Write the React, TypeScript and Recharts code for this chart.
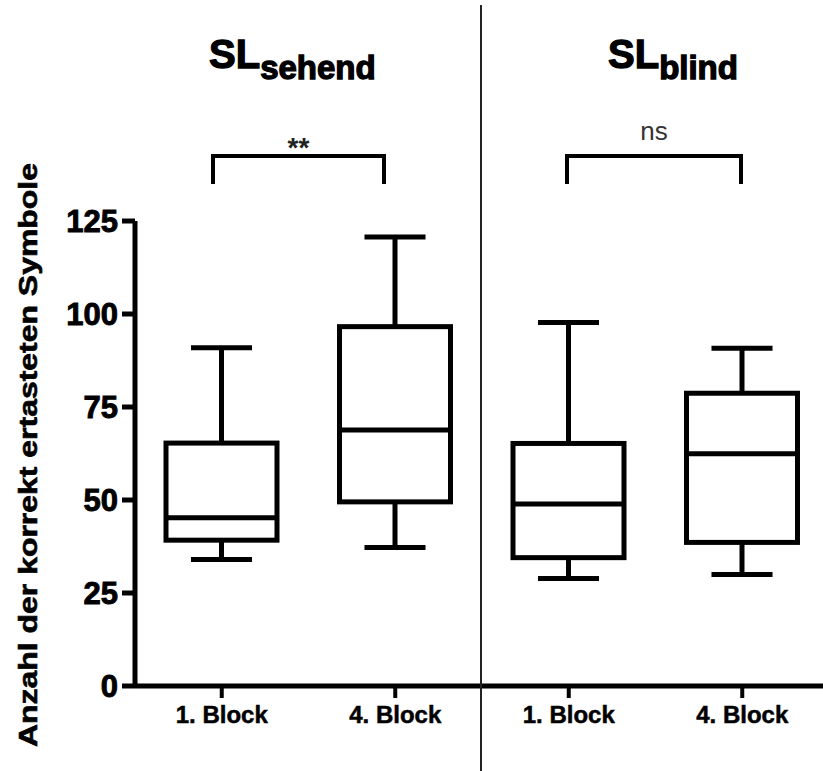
import { ComposedChart, Bar, XAxis, YAxis } from 'recharts'

const categories = ['sehend-1', 'sehend-4', 'blind-1', 'blind-4']
const tickLabels = ['1. Block', '4. Block', '1. Block', '4. Block']
const minValues = [34, 37.2, 28.9, 30]
const q1Values = [39.2, 49.5, 34.5, 38.6]
const medianValues = [45.2, 68.8, 48.9, 62.4]
const q3Values = [65.3, 96.6, 65.2, 78.7]
const maxValues = [90.9, 120.7, 97.7, 90.8]
const yTicks = [0, 25, 50, 75, 100, 125]

const FONT = '"Liberation Sans", Arial, sans-serif'

const rows = categories.map((key, i) => ({
  key,
  label: tickLabels[i],
  min: minValues[i],
  q1: q1Values[i],
  median: medianValues[i],
  q3: q3Values[i],
  max: maxValues[i],
  range: [minValues[i], maxValues[i]],
}))

// box + whiskers, scaled from the bar's own [min, max] extent
function BoxShape(props: any) {
  const { x, y, width, height, payload } = props
  const top = Math.min(y, y + height)
  const span = Math.abs(height)
  const perUnit = span / (payload.max - payload.min)
  const py = (v: number) => top + (payload.max - v) * perUnit
  const cx = x + width / 2
  const cap = width * 0.55
  const sw = 5
  return (
    <g>
      <line x1={cx} x2={cx} y1={py(payload.max)} y2={py(payload.q3)} stroke="#000" strokeWidth={sw} />
      <line x1={cx} x2={cx} y1={py(payload.q1)} y2={py(payload.min)} stroke="#000" strokeWidth={sw} />
      <line x1={cx - cap / 2} x2={cx + cap / 2} y1={py(payload.max)} y2={py(payload.max)} stroke="#000" strokeWidth={sw} />
      <line x1={cx - cap / 2} x2={cx + cap / 2} y1={py(payload.min)} y2={py(payload.min)} stroke="#000" strokeWidth={sw} />
      <rect x={x} y={py(payload.q3)} width={width} height={py(payload.q1) - py(payload.q3)}
        fill="#fff" stroke="#000" strokeWidth={sw} />
      <line x1={x} x2={x + width} y1={py(payload.median)} y2={py(payload.median)} stroke="#000" strokeWidth={sw} />
    </g>
  )
}

export default function App() {
  return (
    <div style={{ position: 'absolute', left: 0, top: 0, width: 823, height: 771, overflow: 'hidden', background: '#fff' }}>
      <ComposedChart width={850} height={771} data={rows} margin={{ top: 221, right: 21, bottom: 0, left: 0 }}>
        <XAxis
          dataKey="key"
          height={85}
          tickFormatter={(_v, i) => tickLabels[i]}
          axisLine={{ stroke: '#000', strokeWidth: 5 }}
          tickLine={{ stroke: '#000', strokeWidth: 4 }}
          tickSize={12}
          tickMargin={8}
          tick={{ fontSize: 24, fontWeight: 'bold', fill: '#000', stroke: '#000', strokeWidth: 0.5, fontFamily: FONT }}
        />
        <YAxis
          width={135}
          domain={[0, 125]}
          ticks={yTicks}
          interval={0}
          axisLine={{ stroke: '#000', strokeWidth: 5 }}
          tickLine={{ stroke: '#000', strokeWidth: 5 }}
          tickSize={13}
          tickMargin={4}
          tick={{ fontSize: 31, fontWeight: 'bold', fill: '#000', stroke: '#000', strokeWidth: 0.9, fontFamily: FONT }}
        />
        <Bar dataKey="range" barSize={111} shape={BoxShape} isAnimationActive={false} />
      </ComposedChart>

      {/* titles, brackets, separator, y label */}
      <svg width={823} height={771} style={{ position: 'absolute', left: 0, top: 0, pointerEvents: 'none' }}>
        <line x1={481} x2={481} y1={5} y2={771} stroke="#222" strokeWidth={2} />
        <text x={209} y={68} fontFamily={FONT} fontWeight="bold" fontSize={40} fill="#000" stroke="#000" strokeWidth={1.3}>
          SL<tspan fontSize={33} dy={11}>sehend</tspan>
        </text>
        <text x={608} y={68} fontFamily={FONT} fontWeight="bold" fontSize={40} fill="#000" stroke="#000" strokeWidth={1.3}>
          SL<tspan fontSize={33} dy={11}>blind</tspan>
        </text>
        <path d="M213 184 V156 H384 V184" fill="none" stroke="#000" strokeWidth={4} />
        <text x={298.5} y={157} textAnchor="middle" fontFamily={FONT} fontWeight="bold" fontSize={28} fill="#222">**</text>
        <path d="M567 184 V156 H741 V184" fill="none" stroke="#000" strokeWidth={4} />
        <text x={654} y={140} textAnchor="middle" fontFamily={FONT} fontSize={26} fill="#333">ns</text>
        <text x={37} y={455} transform="rotate(-90, 37, 455)" textAnchor="middle" fontFamily={FONT}
          fontWeight="bold" fontSize={25} fill="#000" stroke="#000" strokeWidth={0.6}
          textLength={584} lengthAdjust="spacingAndGlyphs">
          Anzahl der korrekt ertasteten Symbole
        </text>
      </svg>
    </div>
  )
}
